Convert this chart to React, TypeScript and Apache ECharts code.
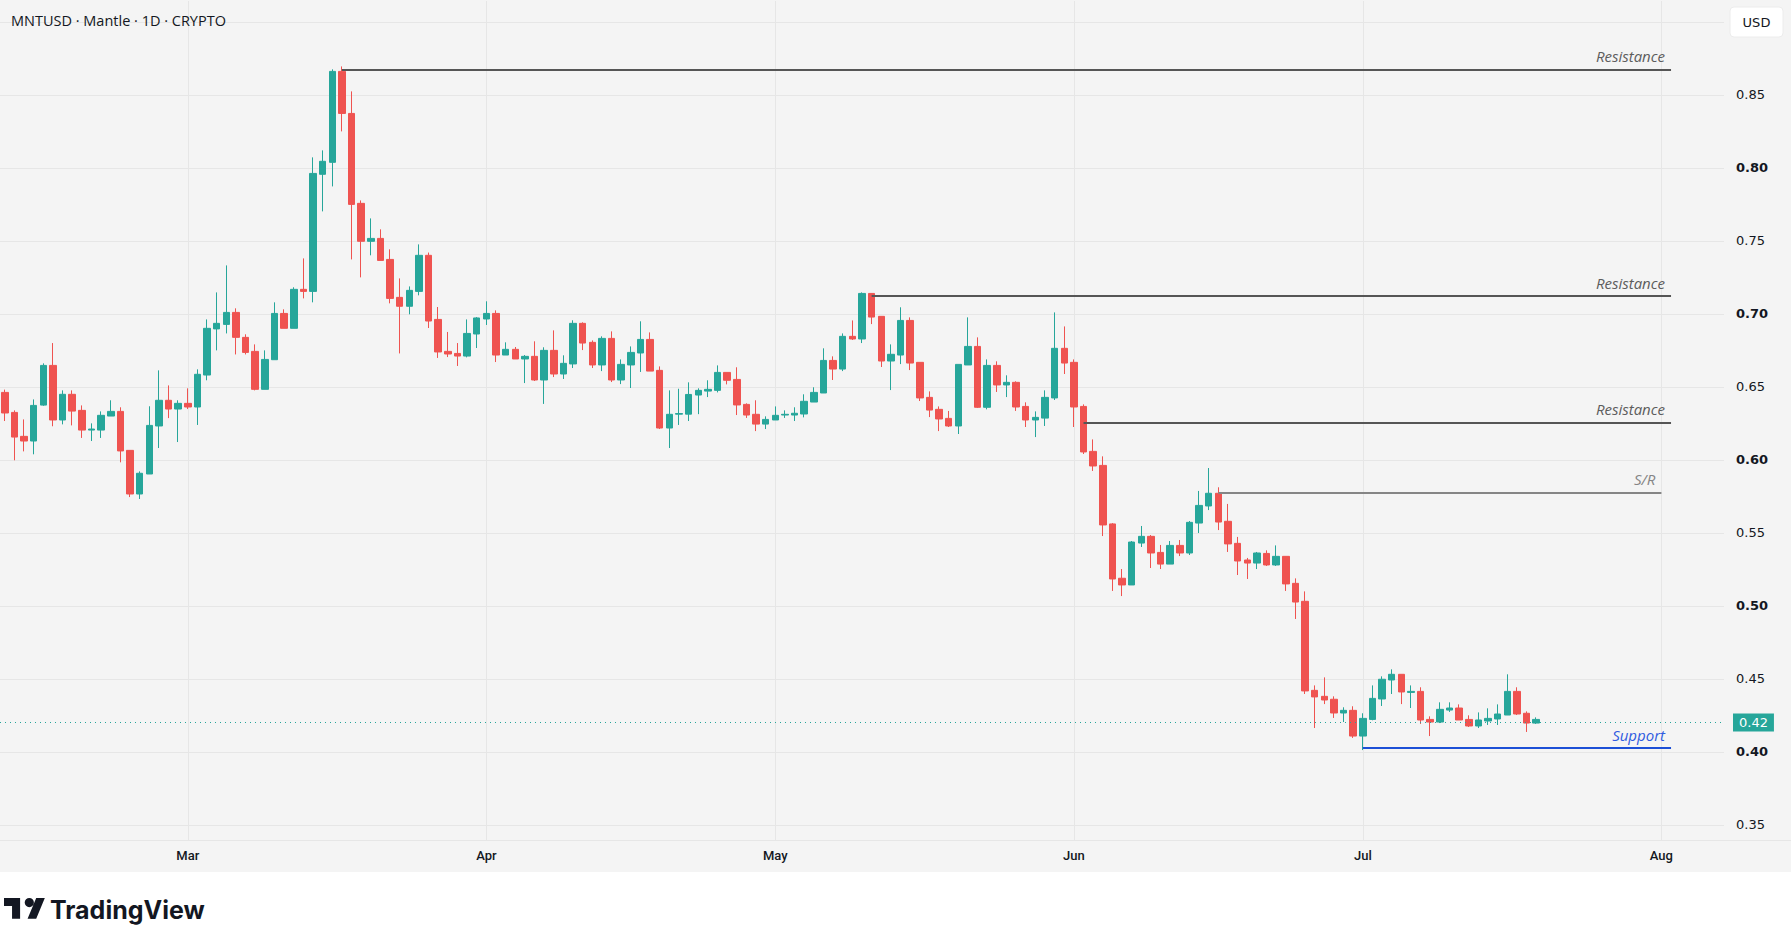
import React, { useEffect, useRef } from 'react';
import * as echarts from 'echarts';

// ---------- data ----------
const startYear = 2025;
const startMonth = 1; // February (0-based)
const startDay = 10;
const totalDays = 179; // Feb 10 .. Aug 7

const monthStarts = ['2025-03-01', '2025-04-01', '2025-05-01', '2025-06-01', '2025-07-01', '2025-08-01'];
const monthLabels = ['Mar', 'Apr', 'May', 'Jun', 'Jul', 'Aug'];

const opens = [
  0.6462, 0.6325, 0.6161, 0.6129, 0.6375, 0.6647, 0.6273, 0.6449, 0.6339, 0.6204,
  0.6204, 0.6300, 0.6332, 0.6065, 0.5766, 0.5903, 0.6232, 0.6408, 0.6348, 0.6387,
  0.6362, 0.6581, 0.6897, 0.6928, 0.7010, 0.6839, 0.6743, 0.6483, 0.6686, 0.7003,
  0.6901, 0.7168, 0.7154, 0.7956, 0.8038, 0.8661, 0.8373, 0.7757, 0.7497, 0.7517,
  0.7373, 0.7113, 0.7052, 0.7154, 0.7401, 0.6962, 0.6743, 0.6729, 0.6711, 0.6862,
  0.6965, 0.7003, 0.6718, 0.6757, 0.6691, 0.6709, 0.6547, 0.6750, 0.6588, 0.6657,
  0.6935, 0.6805, 0.6650, 0.6832, 0.6547, 0.6650, 0.6732, 0.6825, 0.6613, 0.6218,
  0.6313, 0.6313, 0.6444, 0.6471, 0.6476, 0.6599, 0.6551, 0.6380, 0.6312, 0.6245,
  0.6273, 0.6307, 0.6307, 0.6314, 0.6396, 0.6458, 0.6681, 0.6622, 0.6846, 0.6828,
  0.7140, 0.6983, 0.6677, 0.6718, 0.6955, 0.6668, 0.6428, 0.6346, 0.6284, 0.6232,
  0.6650, 0.6777, 0.6360, 0.6647, 0.6513, 0.6531, 0.6366, 0.6273, 0.6286, 0.6424,
  0.6764, 0.6668, 0.6366, 0.6058, 0.5962, 0.5561, 0.5189, 0.5143, 0.5430, 0.5476,
  0.5366, 0.5286, 0.5414, 0.5362, 0.5567, 0.5684, 0.5771, 0.5579, 0.5428, 0.5314,
  0.5293, 0.5359, 0.5280, 0.5339, 0.5154, 0.5031, 0.4421, 0.4380, 0.4360, 0.4266,
  0.4284, 0.4108, 0.4222, 0.4362, 0.4492, 0.4531, 0.4407, 0.4414, 0.4222, 0.4204,
  0.4286, 0.4300, 0.4222, 0.4177, 0.4211, 0.4225, 0.4252, 0.4414, 0.4264, 0.4197,
];
const closes = [
  0.6321, 0.6156, 0.6129, 0.6373, 0.6647, 0.6273, 0.6449, 0.6334, 0.6204, 0.6211,
  0.6305, 0.6332, 0.6061, 0.5766, 0.5908, 0.6236, 0.6408, 0.6348, 0.6387, 0.6362,
  0.6586, 0.6901, 0.6935, 0.7010, 0.6839, 0.6736, 0.6483, 0.6688, 0.7003, 0.6901,
  0.7168, 0.7154, 0.7962, 0.8045, 0.8661, 0.8373, 0.7750, 0.7497, 0.7517, 0.7366,
  0.7106, 0.7052, 0.7161, 0.7401, 0.6951, 0.6739, 0.6725, 0.6711, 0.6866, 0.6972,
  0.7003, 0.6718, 0.6757, 0.6691, 0.6709, 0.6547, 0.6750, 0.6588, 0.6661, 0.6935,
  0.6800, 0.6650, 0.6832, 0.6547, 0.6654, 0.6736, 0.6825, 0.6608, 0.6218, 0.6312,
  0.6317, 0.6448, 0.6476, 0.6483, 0.6599, 0.6545, 0.6376, 0.6307, 0.6245, 0.6277,
  0.6305, 0.6312, 0.6319, 0.6401, 0.6462, 0.6681, 0.6622, 0.6846, 0.6828, 0.7140,
  0.6978, 0.6677, 0.6723, 0.6955, 0.6663, 0.6424, 0.6341, 0.6280, 0.6232, 0.6654,
  0.6777, 0.6360, 0.6647, 0.6513, 0.6531, 0.6362, 0.6273, 0.6291, 0.6428, 0.6764,
  0.6663, 0.6362, 0.6054, 0.5958, 0.5554, 0.5184, 0.5143, 0.5437, 0.5476, 0.5362,
  0.5286, 0.5414, 0.5362, 0.5572, 0.5688, 0.5771, 0.5574, 0.5424, 0.5307, 0.5293,
  0.5362, 0.5280, 0.5339, 0.5150, 0.5026, 0.4417, 0.4376, 0.4355, 0.4266, 0.4284,
  0.4108, 0.4229, 0.4366, 0.4497, 0.4531, 0.4410, 0.4414, 0.4218, 0.4204, 0.4291,
  0.4300, 0.4218, 0.4177, 0.4218, 0.4229, 0.4259, 0.4414, 0.4259, 0.4197, 0.4222,
];
const lows = [
  0.6266, 0.5997, 0.6058, 0.6038, 0.6370, 0.6230, 0.6243, 0.6236, 0.6150, 0.6129,
  0.6150, 0.6300, 0.5983, 0.5745, 0.5732, 0.5903, 0.6081, 0.6286, 0.6122, 0.6348,
  0.6239, 0.6545, 0.6750, 0.6866, 0.6722, 0.6722, 0.6476, 0.6483, 0.6686, 0.6901,
  0.6901, 0.7106, 0.7079, 0.7702, 0.7873, 0.8250, 0.7373, 0.7250, 0.7401, 0.7366,
  0.7072, 0.6729, 0.6997, 0.7127, 0.6903, 0.6698, 0.6704, 0.6643, 0.6702, 0.6766,
  0.6924, 0.6670, 0.6718, 0.6691, 0.6526, 0.6540, 0.6383, 0.6567, 0.6554, 0.6629,
  0.6752, 0.6629, 0.6608, 0.6533, 0.6519, 0.6492, 0.6602, 0.6608, 0.6211, 0.6081,
  0.6239, 0.6266, 0.6313, 0.6430, 0.6462, 0.6517, 0.6307, 0.6287, 0.6197, 0.6211,
  0.6273, 0.6287, 0.6266, 0.6291, 0.6396, 0.6458, 0.6547, 0.6608, 0.6821, 0.6800,
  0.6930, 0.6636, 0.6478, 0.6656, 0.6615, 0.6403, 0.6293, 0.6197, 0.6225, 0.6177,
  0.6650, 0.6355, 0.6346, 0.6465, 0.6430, 0.6335, 0.6225, 0.6156, 0.6232, 0.6410,
  0.6588, 0.6225, 0.6040, 0.5924, 0.5478, 0.5102, 0.5067, 0.5143, 0.5403, 0.5259,
  0.5252, 0.5286, 0.5341, 0.5348, 0.5499, 0.5656, 0.5519, 0.5369, 0.5211, 0.5184,
  0.5252, 0.5273, 0.5273, 0.5102, 0.4910, 0.4396, 0.4163, 0.4327, 0.4232, 0.4204,
  0.4095, 0.4012, 0.4216, 0.4314, 0.4396, 0.4327, 0.4300, 0.4191, 0.4108, 0.4197,
  0.4273, 0.4218, 0.4170, 0.4163, 0.4184, 0.4184, 0.4252, 0.4252, 0.4136, 0.4191,
];
const highs = [
  0.6481, 0.6339, 0.6277, 0.6414, 0.6661, 0.6800, 0.6476, 0.6476, 0.6373, 0.6250,
  0.6332, 0.6408, 0.6360, 0.6065, 0.5921, 0.6367, 0.6613, 0.6510, 0.6408, 0.6490,
  0.6620, 0.6962, 0.7147, 0.7332, 0.7038, 0.6860, 0.6791, 0.6750, 0.7079, 0.7031,
  0.7182, 0.7380, 0.8072, 0.8120, 0.8675, 0.8695, 0.8524, 0.7777, 0.7654, 0.7579,
  0.7442, 0.7243, 0.7188, 0.7476, 0.7420, 0.7047, 0.6876, 0.6800, 0.6962, 0.6978,
  0.7086, 0.7024, 0.6805, 0.6773, 0.6718, 0.6812, 0.6771, 0.6887, 0.6716, 0.6956,
  0.6942, 0.6818, 0.6846, 0.6880, 0.6688, 0.6777, 0.6949, 0.6873, 0.6640, 0.6476,
  0.6487, 0.6531, 0.6490, 0.6545, 0.6647, 0.6599, 0.6634, 0.6387, 0.6408, 0.6298,
  0.6366, 0.6339, 0.6360, 0.6449, 0.6497, 0.6764, 0.6709, 0.6866, 0.6955, 0.7147,
  0.7140, 0.6983, 0.6791, 0.7045, 0.6976, 0.6668, 0.6469, 0.6366, 0.6335, 0.6654,
  0.6976, 0.6839, 0.6688, 0.6675, 0.6579, 0.6538, 0.6394, 0.6332, 0.6476, 0.7010,
  0.6914, 0.6688, 0.6380, 0.6140, 0.6024, 0.5567, 0.5252, 0.5444, 0.5547, 0.5485,
  0.5417, 0.5444, 0.5451, 0.5581, 0.5787, 0.5944, 0.5812, 0.5698, 0.5472, 0.5328,
  0.5369, 0.5380, 0.5414, 0.5339, 0.5188, 0.5099, 0.4455, 0.4510, 0.4380, 0.4305,
  0.4312, 0.4264, 0.4455, 0.4517, 0.4565, 0.4531, 0.4455, 0.4442, 0.4243, 0.4339,
  0.4339, 0.4325, 0.4250, 0.4270, 0.4298, 0.4325, 0.4531, 0.4442, 0.4277, 0.4236,
];

// horizontal drawings
const levelLabels = ['Resistance', 'Resistance', 'Resistance', 'S/R', 'Support'];
const levelValues = [0.8675, 0.7122, 0.6257, 0.5773, 0.4026];
const levelStarts = ['2025-03-17', '2025-05-11', '2025-06-02', '2025-06-16', '2025-07-01'];
const levelEnds = ['2025-08-02', '2025-08-02', '2025-08-02', '2025-08-01', '2025-08-02'];
const levelKinds = ['res', 'res', 'res', 'sr', 'sup'];

// price scale: ticks every 0.05 counted from 0.30; top edge of the pane is ~0.915
const yTickMin = 0.3;
const yPaneMax = 0.915;
const yTickStep = 0.05;

// ---------- helpers ----------
const pad = (n: number) => (n < 10 ? '0' + n : '' + n);
const categories: string[] = [];
for (let i = 0; i < totalDays; i++) {
  const d = new Date(Date.UTC(startYear, startMonth, startDay + i));
  categories.push(`${d.getUTCFullYear()}-${pad(d.getUTCMonth() + 1)}-${pad(d.getUTCDate())}`);
}

const logoPath =
  'M14 22H7V11H0V4h14v18z M22 12a4 4 0 1 0 0-8 4 4 0 0 0 0 8z M20.5 22l7.5-18h7.5l-7.5 18z';
echarts.graphic.registerShape('tvlogo', echarts.graphic.extendPath(logoPath, {}));

const UP = '#26a69a';
const DOWN = '#ef5350';
const TEXT = '#131722';
const BG = '#f4f4f4';
const GRID = '#e6e6e6';

const levelStyle: Record<string, any> = {
  res: { line: '#555555', text: '#5d5d5d', width: 2 },
  sr: { line: '#858585', text: '#858585', width: 2 },
  sup: { line: '#1c4fd6', text: '#2f5be0', width: 2 },
};

function buildOption() {
  const candleData = opens.map((o, i) => [o, closes[i], lows[i], highs[i]]);
  const lastPrice = closes[closes.length - 1];

  const levelLines: any[] = levelValues.map((v, i) => {
    const st = levelStyle[levelKinds[i]];
    return [
      {
        coord: [levelStarts[i], v],
        lineStyle: { color: st.line, width: st.width, type: 'solid' },
        label: {
          show: true,
          position: 'insideEndTop',
          formatter: levelLabels[i],
          color: st.text,
          fontStyle: 'italic',
          fontSize: 15,
          fontFamily: 'Open Sans',
          distance: 6,
        },
      },
      { coord: [levelEnds[i], v] },
    ];
  });

  const lastLine = {
    yAxis: lastPrice,
    lineStyle: { color: UP, width: 1, type: [1, 4] as any },
    label: {
      show: true,
      position: 'end',
      formatter: lastPrice.toFixed(2),
      color: '#ffffff',
      backgroundColor: UP,
      padding: [3, 6, 2, 6],
      fontSize: 13,
      fontFamily: 'DejaVu Sans',
      distance: 9,
    },
  };

  return {
    animation: false,
    backgroundColor: BG,
    grid: { left: 0, right: 67, top: 0, bottom: 49.2, containLabel: false },
    xAxis: {
      type: 'category',
      data: categories,
      boundaryGap: true,
      offset: -57.3,
      z: 60,
      axisLine: { show: false },
      axisTick: { show: false },
      splitLine: { show: false },
      axisLabel: {
        interval: (_i: number, v: string) => monthStarts.indexOf(v) >= 0,
        formatter: (v: string) => {
          const k = monthStarts.indexOf(v);
          return k >= 0 ? monthLabels[k] : '';
        },
        color: TEXT,
        fontSize: 13,
        fontFamily: 'Roboto',
        fontWeight: 500,
        margin: 8,
      },
    },
    yAxis: {
      type: 'value',
      position: 'right',
      min: yTickMin,
      max: yPaneMax,
      interval: yTickStep,
      axisLine: { show: false },
      axisTick: { show: false },
      splitLine: { show: true, lineStyle: { color: GRID, width: 1 } },
      axisLabel: {
        margin: 12,
        showMaxLabel: false,
        showMinLabel: false,
        formatter: (v: number) => {
          const c = Math.round(v * 100);
          if (c <= 30 || c >= 90 || Math.abs(v * 100 - c) > 0.01) return '';
          const s = (c / 100).toFixed(2);
          return c % 10 === 0 ? `{b|${s}}` : `{n|${s}}`;
        },
        rich: {
          b: { fontWeight: 'bold', color: TEXT, fontSize: 13, fontFamily: 'DejaVu Sans' },
          n: { fontWeight: 'normal', color: TEXT, fontSize: 13, fontFamily: 'DejaVu Sans' },
        },
      },
    },
    series: [
      {
        type: 'line',
        data: [],
        silent: true,
        z: 1,
        markLine: {
          silent: true,
          z: 1,
          symbol: ['none', 'none'],
          label: { show: false },
          lineStyle: { color: GRID, width: 1, type: 'solid' },
          data: monthStarts.map((m) => ({ xAxis: m })),
        },
      },
      {
        type: 'candlestick',
        data: candleData,
        barWidth: 7,
        z: 2,
        clip: false,
        itemStyle: {
          color: UP,
          color0: DOWN,
          borderColor: UP,
          borderColor0: DOWN,
          borderWidth: 1,
        },
        markLine: {
          silent: true,
          z: 5,
          symbol: ['none', 'none'],
          data: [lastLine, ...levelLines],
        },
      },
    ],
    graphic: [
      // top edge cover (hides a pane-edge grid line)
      { type: 'rect', z: 50, silent: true, shape: { x: 0, y: 0, width: 1724, height: 1 }, style: { fill: BG } },
      // time-axis strip & bottom white area (cover vertical grid lines)
      { type: 'rect', z: 50, silent: true, shape: { x: 0, y: 840, width: 1791, height: 32 }, style: { fill: BG } },
      { type: 'rect', z: 51, silent: true, shape: { x: 0, y: 840, width: 1791, height: 1 }, style: { fill: GRID } },
      { type: 'rect', z: 50, silent: true, shape: { x: 0, y: 872, width: 1791, height: 75 }, style: { fill: '#ffffff' } },
      // header
      {
        type: 'text',
        z: 70,
        x: 11,
        y: 20,
        style: {
          text: 'MNTUSD · Mantle · 1D · CRYPTO',
          fill: TEXT,
          fontSize: 14.5,
          fontFamily: 'Open Sans',
          textAlign: 'left',
          textVerticalAlign: 'middle',
          align: 'left',
          verticalAlign: 'middle',
        },
      },
      // USD button
      {
        type: 'rect',
        z: 70,
        shape: { x: 1730, y: 7, width: 53, height: 30, r: 4 },
        style: { fill: '#ffffff', stroke: '#ececec', lineWidth: 1 },
      },
      {
        type: 'text',
        z: 71,
        x: 1756.5,
        y: 22,
        style: {
          text: 'USD',
          fill: TEXT,
          fontSize: 13,
          fontFamily: 'DejaVu Sans',
          textAlign: 'center',
          textVerticalAlign: 'middle',
          align: 'center',
          verticalAlign: 'middle',
        },
      },
      // TradingView logo
      {
        type: 'tvlogo',
        z: 70,
        x: 4,
        y: 893.4,
        scaleX: 1.15,
        scaleY: 1.15,
        style: { fill: TEXT },
      },
      {
        type: 'text',
        z: 70,
        x: 50,
        y: 910,
        style: {
          text: 'TradingView',
          fill: TEXT,
          fontSize: 25,
          fontWeight: 'bold',
          fontFamily: 'Inter',
          textAlign: 'left',
          textVerticalAlign: 'middle',
          align: 'left',
          verticalAlign: 'middle',
        },
      },
    ],
  };
}

export default function App() {
  const ref = useRef<HTMLDivElement>(null);
  useEffect(() => {
    if (!ref.current) return;
    const chart = echarts.init(ref.current, undefined, { renderer: 'svg' });
    chart.setOption(buildOption() as any);
    return () => {
      chart.dispose();
    };
  }, []);
  return (
    <div
      ref={ref}
      style={{ position: 'fixed', left: 0, top: 0, width: 1791, height: 947, background: '#ffffff' }}
    />
  );
}
